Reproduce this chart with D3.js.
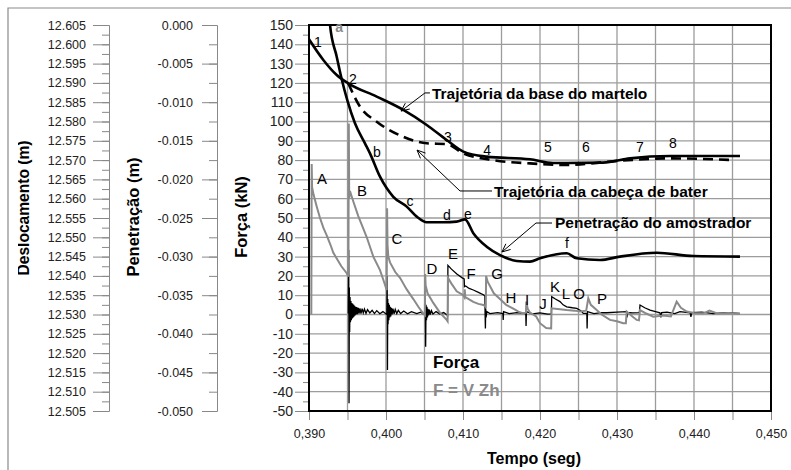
<!doctype html>
<html>
<head>
<meta charset="utf-8">
<script src="https://d3js.org/d3.v7.min.js"></script>
<style>
  body { margin: 0; background: #fff; }
  svg text { font-family: "Liberation Sans", Arial, sans-serif; }
</style>
</head>
<body>
<svg id="chart" width="791" height="470"></svg>
<script>
// tempo (s), forca (kN) - sinal medido (preto)
var forca = [
  [0.39510, 0.5], [0.39516, 33.4], [0.39520, -46], [0.39524, 14], [0.39528, -9], [0.39533, 9],
  [0.39538, -4], [0.39544, 7], [0.39550, -3], [0.39556, 6], [0.39562, -2], [0.39568, 5.5],
  [0.39574, -1.5], [0.39580, 5], [0.39586, -1], [0.39592, 4.5], [0.39598, -0.5], [0.39605, 4],
  [0.39612, 0], [0.39620, 3.8], [0.39630, 0.2], [0.39640, 3.5], [0.39650, 0.5], [0.39662, 3.2],
  [0.39675, 0.5], [0.39690, 3], [0.39705, 0.8], [0.39720, 2.8], [0.39740, 0.6], [0.39760, 2.5],
  [0.39790, 0.8], [0.39820, 2.2], [0.39850, 0.5], [0.39880, 2], [0.39920, 0.4], [0.39960, 1.5],
  [0.40010, 0],
  [0.40015, 20], [0.40019, -28.8], [0.40023, 8], [0.40027, -5], [0.40032, 6], [0.40037, -3],
  [0.40043, 5], [0.40049, -1.5], [0.40055, 4], [0.40062, -1], [0.40070, 3.5], [0.40080, 0],
  [0.40090, 3], [0.40105, 0.3], [0.40120, 2.6], [0.40140, 0.5], [0.40160, 2.2], [0.40190, 0.5],
  [0.40230, 1.8], [0.40280, 0.4], [0.40330, 1.5], [0.40400, 0.5], [0.40450, 1.2], [0.40500, 0],
  [0.40510, 12], [0.40515, -16.7], [0.40520, 5], [0.40526, -3], [0.40532, 4], [0.40538, -1.5],
  [0.40545, 3], [0.40553, -0.5], [0.40562, 2.5], [0.40575, 0], [0.40590, 2], [0.40610, 0.3],
  [0.40650, 1.5], [0.40700, 0.3], [0.40750, 1], [0.40800, -0.5],
  [0.40804, 25.5], [0.40850, 23.5], [0.40920, 21],
  [0.40990, 19], [0.41015, 18.5], [0.41019, 14.4], [0.41035, 14.8], [0.41080, 13.5], [0.41134, 12.7],
  [0.41200, 11.5], [0.41270, 10.1], [0.41284, 9.5], [0.41287, 0], [0.41291, -7.2], [0.41295, 3],
  [0.41300, -1.5], [0.41310, 1.5], [0.41350, 0.5], [0.41450, 1], [0.41518, 0.5], [0.41522, -2.8],
  [0.41527, 1.5], [0.41600, 0.5], [0.41700, 1], [0.41815, 0.5], [0.41819, -6], [0.41824, 1.5],
  [0.41900, 0.3], [0.42000, 0.8], [0.42100, 0.2], [0.42148, 0.3], [0.42152, 9.2], [0.42200, 8],
  [0.42260, 6.7], [0.42300, 5], [0.42347, 4], [0.42420, 3.5], [0.42477, 3.2], [0.42530, 2],
  [0.42562, 0.6], [0.42608, 0.6], [0.42612, -7.2], [0.42617, 1.5], [0.42700, 0.5], [0.42800, 1],
  [0.42866, 0.9], [0.43000, 1.2], [0.43126, 1.5], [0.43130, -1.5], [0.43140, 1], [0.43200, 0.8],
  [0.43290, 1], [0.43299, 4.9], [0.43360, 3.5], [0.43429, 2.3], [0.43500, 1.5], [0.43558, 0.9],
  [0.43570, -1.5], [0.43580, 1], [0.43650, 1.2], [0.43750, 0.5], [0.43818, 1.5], [0.43950, 0.8],
  [0.43960, -1.2], [0.43970, 1], [0.44100, 1.2], [0.44250, 0.5], [0.44400, 1], [0.44597, 0.6]
];

// F = V Zh (cinza)
var fvz = [
  [0.39030, 0], [0.39035, 78], [0.39040, 66], [0.39060, 62], [0.39100, 56], [0.39143, 50],
  [0.39186, 45], [0.39230, 41], [0.39280, 36], [0.39316, 32], [0.39360, 29], [0.39420, 25],
  [0.39490, 21.4], [0.39512, 19.6], [0.39517, 99], [0.39522, 60], [0.39532, 64], [0.39580, 58],
  [0.39640, 51], [0.39700, 45], [0.39750, 40], [0.39835, 30], [0.39922, 23], [0.39965, 18],
  [0.40009, 12.7], [0.40014, 55], [0.40020, 36], [0.40030, 30], [0.40052, 27], [0.40120, 22],
  [0.40182, 19], [0.40269, 13], [0.40355, 8], [0.40420, 4], [0.40484, 0.5], [0.40505, -0.3],
  [0.40509, 21], [0.40515, 15], [0.40540, 11], [0.40614, 6], [0.40700, 1], [0.40788, -2.8],
  [0.40800, -3.5], [0.40804, 19], [0.40850, 16], [0.40918, 12], [0.41004, 10], [0.41018, 9],
  [0.41022, 13], [0.41030, 9], [0.41134, 6.5], [0.41200, 5.5], [0.41264, 4.9], [0.41296, 4],
  [0.41300, 20], [0.41320, 17], [0.41400, 11], [0.41480, 8], [0.41560, 5], [0.41653, 3],
  [0.41720, 1.5], [0.41783, 0.5], [0.41818, 1], [0.41822, 6.7], [0.41840, 3], [0.41870, 1],
  [0.41950, -1], [0.42000, -4.5], [0.42080, -7], [0.42145, -7.2], [0.42150, 3.2], [0.42200, 3],
  [0.42347, 2.3], [0.42450, 2], [0.42520, 1.5], [0.42600, 2], [0.42627, 8.4], [0.42660, 5],
  [0.42736, 2.3], [0.42800, 0], [0.42909, -2.8], [0.43000, -3.5], [0.43080, -4.5], [0.43115, -4.5],
  [0.43126, 1.5], [0.43200, -1], [0.43256, -2.8], [0.43285, -3], [0.43299, 2.3], [0.43380, 0.5],
  [0.43471, -1.1], [0.43600, -0.5], [0.43700, -1], [0.43775, 6.7], [0.43830, 3.5], [0.43905, 1.5],
  [0.44000, 0.8], [0.44122, 0.6], [0.44200, 2], [0.44300, 0.5], [0.44450, 0.8], [0.44597, 0.2]
];

// trajetoria da base do martelo (1..8)
var baseMartelo = [
  [0.39000, 142.6], [0.39186, 131.9], [0.39360, 124.1], [0.39510, 119.8], [0.39879, 112.9],
  [0.40225, 106], [0.40529, 98.2], [0.40788, 90.4], [0.41004, 84.4], [0.41308, 81.8],
  [0.41870, 80.4], [0.42169, 78.5], [0.42818, 78.7], [0.43169, 80.9], [0.43688, 82.1], [0.44597, 82.1]
];

// trajetoria da cabeca de bater (tracejada)
var cabecaBater = [
  [0.39510, 119.8], [0.39662, 107.7], [0.39879, 99.9], [0.40225, 92.1], [0.40529, 88.7],
  [0.40788, 88.3], [0.41004, 83.5], [0.41390, 80], [0.41870, 78.3], [0.42347, 77.5],
  [0.43039, 79.7], [0.43688, 80.9], [0.44506, 80]
];

// penetracao do amostrador (a..f)
var penetracao = [
  [0.39260, 158], [0.39273, 150], [0.39360, 133.6], [0.39425, 121.9], [0.39497, 111.1],
  [0.39597, 99.1], [0.39727, 88.7], [0.39792, 83.5], [0.39922, 71.4], [0.40095, 61],
  [0.40269, 55.9], [0.40399, 50.7], [0.40529, 47.8], [0.40744, 47.8], [0.40918, 48.1],
  [0.41026, 49.3], [0.41134, 42.1], [0.41308, 35.1], [0.41480, 30.8], [0.41697, 27.7],
  [0.41870, 27.4], [0.42000, 29.1], [0.42347, 31.7], [0.42477, 29.1], [0.42779, 28.2],
  [0.43039, 30], [0.43516, 32], [0.43991, 30.3], [0.44597, 30]
];

var xLabels = ["0,390", "0,400", "0,410", "0,420", "0,430", "0,440", "0,450"];
var deslTicks = d3.range(0, 21).map(function(i) { return 12.505 + i * 0.005; });
var penTicks = d3.range(0, 11).map(function(i) { return -0.05 + i * 0.005; });

// rotulos dos pontos: texto, tempo, forca (linha de base)
var pontos = [
  ["1", 0.39117, 138.6], ["2", 0.39571, 119.4], ["3", 0.40805, 89.4], ["4", 0.41312, 82.6],
  ["5", 0.42104, 84.2], ["6", 0.42597, 84.2], ["7", 0.43299, 84.2], ["8", 0.43727, 86.3],
  ["b", 0.39883, 81.6], ["c", 0.40312, 56.2], ["d", 0.40792, 49.0], ["e", 0.41065, 49.5],
  ["f", 0.42351, 34.5]
];
var picos = [
  ["A", 0.39169, 67.6], ["B", 0.39688, 61.4], ["C", 0.40143, 36.5], ["D", 0.40597, 21.0],
  ["E", 0.40870, 28.8], ["F", 0.41104, 18.4], ["G", 0.41442, 18.4], ["H", 0.41623, 6.0],
  ["I", 0.41831, 5.0], ["J", 0.42039, 2.8], ["K", 0.42195, 11.7], ["L", 0.42338, 8.0],
  ["O", 0.42506, 8.0], ["P", 0.42805, 5.5]
];

var svg = d3.select("#chart");
var plotL = 309, plotR = 771, plotT = 25, plotB = 411;

var x = d3.scaleLinear().domain([0.39, 0.45]).range([plotL, plotR]);
var y = d3.scaleLinear().domain([-50, 150]).range([plotB, plotT]);
var yDesl = d3.scaleLinear().domain([12.505, 12.605]).range([plotB, plotT]);
var yPen = d3.scaleLinear().domain([-0.05, 0]).range([plotB, plotT]);

svg.append("rect").attr("width", 791).attr("height", 470).attr("fill", "#fff");

// moldura externa
svg.append("path").attr("d", "M8,470 V8 H791")
   .attr("fill", "none").attr("stroke", "#8a8a8a").attr("stroke-width", 1.2);

var defs = svg.append("defs");
defs.append("clipPath").attr("id", "plot")
    .append("rect").attr("x", plotL).attr("y", plotT)
    .attr("width", plotR - plotL).attr("height", plotB - plotT);
defs.append("clipPath").attr("id", "titleclip")
    .append("rect").attr("x", 18).attr("y", 0).attr("width", 60).attr("height", 470);

// grade
var grid = svg.append("g").attr("stroke", "#9c9c9c").attr("stroke-width", 1.3);
grid.selectAll(".gh").data(d3.range(-40, 150, 10)).enter().append("line")
    .attr("x1", plotL).attr("x2", plotR)
    .attr("y1", function(d) { return y(d); }).attr("y2", function(d) { return y(d); });
grid.selectAll(".gv").data(d3.range(1, 12)).enter().append("line")
    .attr("y1", plotT).attr("y2", plotB)
    .attr("x1", function(d) { return x(0.39 + d * 0.005); })
    .attr("x2", function(d) { return x(0.39 + d * 0.005); });

function styleAxis(size) {
  return function(g) {
    g.attr("color", "#888");
    g.selectAll("text").attr("fill", "#222").attr("font-size", size)
     .attr("font-family", "Liberation Sans, Arial, sans-serif");
  };
}

// eixo Deslocamento
svg.append("g").attr("transform", "translate(109,0)")
   .call(d3.axisLeft(yDesl).tickValues(d3.range(0, 41).map(function(i) { return 12.505 + i * 0.0025; }))
        .tickSize(7).tickSizeOuter(0).tickFormat(""))
   .call(styleAxis("12.5px"));
svg.append("g").attr("transform", "translate(109,0)")
   .call(d3.axisLeft(yDesl).tickValues(deslTicks).tickSize(16).tickSizeOuter(0).tickPadding(7)
        .tickFormat(function(d) { return d.toFixed(3); }))
   .call(styleAxis("12.5px"));

// eixo Penetracao
svg.append("g").attr("transform", "translate(217,0)")
   .call(d3.axisLeft(yPen).tickValues(d3.range(0, 21).map(function(i) { return -0.05 + i * 0.0025; }))
        .tickSize(8).tickSizeOuter(0).tickFormat(""))
   .call(styleAxis("12.5px"));
svg.append("g").attr("transform", "translate(217,0)")
   .call(d3.axisLeft(yPen).tickValues(penTicks).tickSize(15).tickSizeOuter(0).tickPadding(9)
        .tickFormat(function(d) { return Math.abs(d) < 1e-9 ? "0.000" : d.toFixed(3); }))
   .call(styleAxis("12.5px"));

// eixo Forca
svg.append("g").attr("transform", "translate(" + plotL + ",0)")
   .call(d3.axisLeft(y).tickValues(d3.range(-45, 150, 10)).tickSize(6).tickSizeOuter(0).tickFormat(""))
   .call(styleAxis("12.5px"));
svg.append("g").attr("transform", "translate(" + plotL + ",0)")
   .call(d3.axisLeft(y).tickValues(d3.range(-50, 151, 10)).tickSize(14).tickSizeOuter(0).tickPadding(2)
        .tickFormat(function(d) { return String(d); }))
   .call(styleAxis("14px"));

// eixo Tempo
svg.append("g").attr("transform", "translate(0," + plotB + ")")
   .call(d3.axisBottom(x).tickValues(d3.range(0, 13).map(function(i) { return 0.39 + i * 0.005; }))
        .tickSize(9).tickSizeOuter(0).tickPadding(9)
        .tickFormat(function(d, i) { return i % 2 === 0 ? xLabels[i / 2] : ""; }))
   .call(styleAxis("12.5px"));

// titulos
svg.append("g").attr("clip-path", "url(#titleclip)")
   .append("text").attr("transform", "translate(29,208) rotate(-90)")
   .attr("text-anchor", "middle").attr("font-weight", "bold").attr("font-size", "17px")
   .attr("textLength", 135).attr("lengthAdjust", "spacingAndGlyphs")
   .text("Deslocamento (m)");
svg.append("text").attr("transform", "translate(138.5,217) rotate(-90)")
   .attr("text-anchor", "middle").attr("font-weight", "bold").attr("font-size", "16.5px")
   .text("Penetração (m)");
svg.append("text").attr("transform", "translate(246.5,217) rotate(-90)")
   .attr("text-anchor", "middle").attr("font-weight", "bold").attr("font-size", "16.5px")
   .text("Força (kN)");
svg.append("text").attr("x", 534).attr("y", 464)
   .attr("text-anchor", "middle").attr("font-weight", "bold").attr("font-size", "16px")
   .text("Tempo (seg)");

// series
var line = d3.line().x(function(d) { return x(d[0]); }).y(function(d) { return y(d[1]); });
var smooth = d3.line().curve(d3.curveMonotoneX)
   .x(function(d) { return x(d[0]); }).y(function(d) { return y(d[1]); });
var plot = svg.append("g").attr("clip-path", "url(#plot)");

plot.append("path").datum(forca).attr("d", line)
    .attr("fill", "none").attr("stroke", "#000").attr("stroke-width", 1.3);
plot.append("path").datum(fvz).attr("d", line)
    .attr("fill", "none").attr("stroke", "#8a8a8a").attr("stroke-width", 2);
plot.append("path").datum(penetracao).attr("d", smooth)
    .attr("fill", "none").attr("stroke", "#000").attr("stroke-width", 2.6);
plot.append("path").datum(baseMartelo).attr("d", smooth)
    .attr("fill", "none").attr("stroke", "#000").attr("stroke-width", 2.6);
plot.append("path").datum(cabecaBater).attr("d", smooth)
    .attr("fill", "none").attr("stroke", "#000").attr("stroke-width", 2.6)
    .attr("stroke-dasharray", "10,6");

// borda da area do grafico
svg.append("rect").attr("x", plotL).attr("y", plotT)
   .attr("width", plotR - plotL).attr("height", plotB - plotT)
   .attr("fill", "none").attr("stroke", "#000").attr("stroke-width", 2);

// rotulos
svg.selectAll(".pt").data(pontos).enter().append("text")
   .attr("x", function(d) { return x(d[1]); }).attr("y", function(d) { return y(d[2]); })
   .attr("text-anchor", "middle").attr("font-size", "14px").text(function(d) { return d[0]; });
svg.selectAll(".pk").data(picos).enter().append("text")
   .attr("x", function(d) { return x(d[1]); }).attr("y", function(d) { return y(d[2]); })
   .attr("text-anchor", "middle").attr("font-size", "15px").text(function(d) { return d[0]; });
svg.append("text").attr("x", x(0.3939)).attr("y", y(146.4)).attr("text-anchor", "middle")
   .attr("font-size", "14px").attr("font-weight", "bold").attr("fill", "#8a8a8a").text("a");

// anotacoes com setas
var notas = [
  { txt: "Trajetória da base do martelo", t: 0.40597, f: 111.7,
    seta: [[0.40571, 114.8], [0.40506, 114.8], [0.40195, 105.4]] },
  { txt: "Trajetória da cabeça de bater", t: 0.41403, f: 60.9,
    seta: [[0.41377, 64], [0.40961, 64], [0.40403, 85.2]] },
  { txt: "Penetração do amostrador", t: 0.42195, f: 44.8,
    seta: [[0.42156, 47.4], [0.41948, 47.4], [0.41506, 32.4]] }
];
notas.forEach(function(n) {
  svg.append("text").attr("x", x(n.t)).attr("y", y(n.f))
     .attr("font-weight", "bold").attr("font-size", "15.5px").text(n.txt);
  var pts = n.seta.map(function(p) { return [x(p[0]), y(p[1])]; });
  svg.append("path").attr("d", d3.line()(pts))
     .attr("fill", "none").attr("stroke", "#000").attr("stroke-width", 1);
  var tip = pts[2], prev = pts[1];
  var ang = Math.atan2(prev[1] - tip[1], prev[0] - tip[0]);
  var L = 9, s = 0.42;
  var a1 = [tip[0] + L * Math.cos(ang + s), tip[1] + L * Math.sin(ang + s)];
  var a2 = [tip[0] + L * Math.cos(ang - s), tip[1] + L * Math.sin(ang - s)];
  svg.append("path").attr("d", d3.line()([a1, tip, a2]))
     .attr("fill", "none").attr("stroke", "#000").attr("stroke-width", 1);
});

// legenda
svg.append("text").attr("x", x(0.4061)).attr("y", y(-27.7))
   .attr("font-weight", "bold").attr("font-size", "17px").text("Força");
svg.append("text").attr("x", x(0.4061)).attr("y", y(-42.2))
   .attr("font-weight", "bold").attr("font-size", "17px").attr("fill", "#8a8a8a").text("F = V Zh");
</script>
</body>
</html>
